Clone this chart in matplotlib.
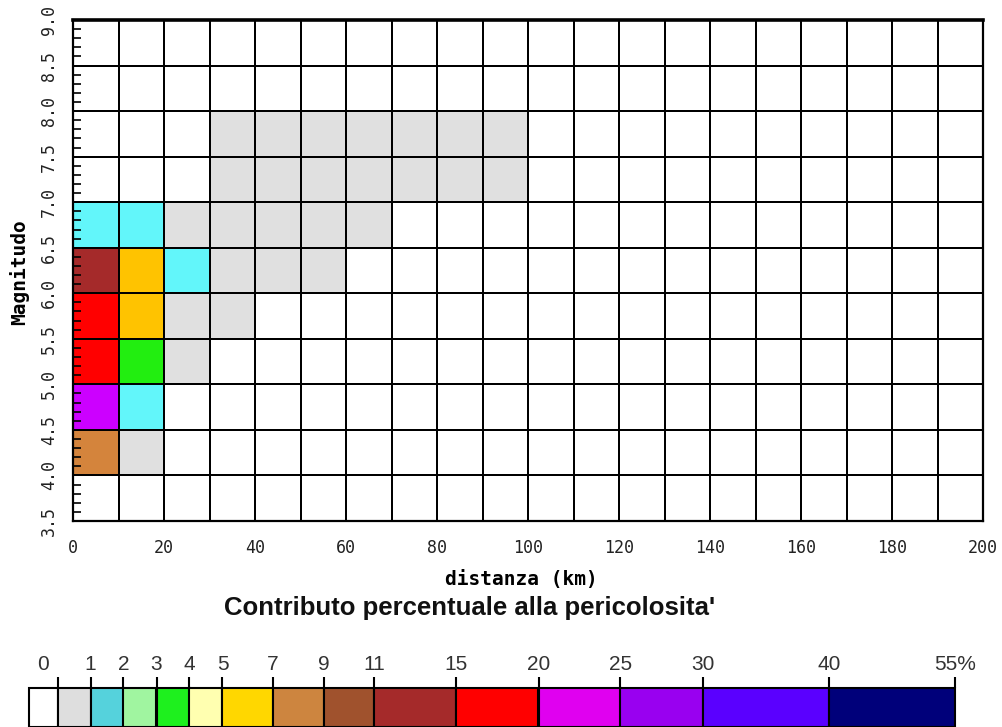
import numpy as np
import matplotlib
matplotlib.use("Agg")
import matplotlib.pyplot as plt
from matplotlib.colors import ListedColormap
from matplotlib.ticker import MultipleLocator

# --- dati ---
# classi di distanza (km) e magnitudo
dist_edges = np.arange(0, 210, 10)
mag_edges = np.arange(3.5, 9.01, 0.5)

# contributo percentuale per cella (righe = magnitudo dal basso, colonne = distanza)
contrib = np.zeros((11, 20))
contrib[1, :2] = [8.0, 0.5]                                  # 4.0-4.5
contrib[2, :2] = [22.0, 1.5]                                 # 4.5-5.0
contrib[3, :3] = [17.0, 3.5, 0.4]                            # 5.0-5.5
contrib[4, :4] = [16.0, 6.0, 0.6, 0.3]                       # 5.5-6.0
contrib[5, :6] = [13.0, 5.5, 1.3, 0.5, 0.3, 0.2]             # 6.0-6.5
contrib[6, :7] = [1.7, 1.2, 0.6, 0.5, 0.4, 0.3, 0.2]         # 6.5-7.0
contrib[7, 3:10] = [0.3, 0.3, 0.2, 0.2, 0.1, 0.1, 0.1]       # 7.0-7.5
contrib[8, 3:10] = [0.2, 0.2, 0.2, 0.1, 0.1, 0.1, 0.1]       # 7.5-8.0

# classi della legenda
class_edges = [0, 1, 2, 3, 4, 5, 7, 9, 11, 15, 20, 25, 30, 40, 55]
class_labels = ['0', '1', '2', '3', '4', '5', '7', '9', '11', '15', '20', '25', '30', '40', '55%']

# colori: celle del grafico e barra della legenda
cell_colors = ['#ffffff', '#e0e0e0', '#62f6fa', '#a0f5a0', '#22ee10', '#ffffb0', '#ffc300',
               '#d4843c', '#a0522d', '#a52a2a', '#ff0000', '#cc00ff', '#9900f0', '#5a00ff', '#00007a']
bar_colors = ['#ffffff', '#dedede', '#55d2dc', '#a0f5a0', '#1ef01e', '#ffffb0', '#ffd700',
              '#cd853f', '#a0522d', '#a52a2a', '#ff0000', '#e000f0', '#9900f0', '#5a00ff', '#00007a']

# larghezza dei riquadri della legenda (pixel)
seg_px = [29, 33, 33, 33, 33, 33, 50.5, 51, 50.5, 82, 82, 82, 82.5, 126, 126.5]

W, H = 1002, 727

# indice di classe per ogni cella
cls = np.searchsorted(class_edges, contrib, side='left')

fig = plt.figure(figsize=(W / 100, H / 100), dpi=100)
fig.patch.set_facecolor('white')

ax = fig.add_axes([73 / W, 1 - 521 / H, (983 - 73) / W, (521 - 20) / H])
ax.pcolormesh(dist_edges, mag_edges, cls, cmap=ListedColormap(cell_colors),
              vmin=-0.5, vmax=len(cell_colors) - 0.5, edgecolors='black', linewidth=1.3)
ax.set_xlim(0, 200)
ax.set_ylim(3.5, 9.0)

mono = 'DejaVu Sans Mono'
ax.set_xticks(range(0, 201, 20))
ax.set_xticklabels([str(v) for v in range(0, 201, 20)], fontfamily=mono, fontsize=12, color='#222222')
yt = np.arange(3.5, 9.01, 0.5)
ax.set_yticks(yt)
ax.set_yticklabels(['%.1f' % v for v in yt], rotation=90, va='center',
                   fontfamily=mono, fontsize=12, color='#222222')
ax.yaxis.set_minor_locator(MultipleLocator(0.1))
ax.tick_params(axis='x', which='major', length=0, pad=13)
ax.tick_params(axis='y', which='major', length=0, pad=11)
ax.tick_params(axis='y', which='minor', direction='in', length=6, width=1.2, left=True)
ax.tick_params(axis='x', which='minor', length=0)
for s in ax.spines.values():
    s.set_linewidth(1.6)
ax.spines['top'].set_linewidth(2.6)

fig.text(19 / W, 1 - 272 / H, 'Magnitudo', rotation=90, ha='center', va='center',
         fontfamily=mono, fontweight='bold', fontsize=14)
fig.text(521 / W, 1 - 579 / H, 'distanza (km)', ha='center', va='center',
         fontfamily=mono, fontweight='bold', fontsize=14)

# legenda a barra
sans = ['Liberation Sans', 'DejaVu Sans']
fig.text(470 / W, 1 - 608 / H, "Contributo percentuale alla pericolosita'", ha='center', va='center',
         fontfamily=sans, fontweight='bold', fontsize=18.5, color='#111111')

cb = fig.add_axes([28.5 / W, 0, sum(seg_px) / W, 39 / H])
cb.set_xlim(0, sum(seg_px))
cb.set_ylim(0, 1)
cb.axis('off')
lefts = np.concatenate([[0], np.cumsum(seg_px)[:-1]])
cb.bar(lefts, 1, width=seg_px, align='edge', color=bar_colors, edgecolor='black',
       linewidth=1.5, clip_on=False)
rights = lefts + np.array(seg_px)
cb.vlines(rights, 1, 1 + 11 / 39, color='black', linewidth=1.5, clip_on=False)
label_x = [lefts[0] + seg_px[0] / 2] + list(rights[1:])
for x, lab in zip(label_x, class_labels):
    cb.text(x, 1 + 23 / 39, lab, ha='center', va='center', fontfamily=sans,
            fontsize=15, color='#333333', clip_on=False)

fig.savefig('out.png', dpi=100, facecolor='white')
